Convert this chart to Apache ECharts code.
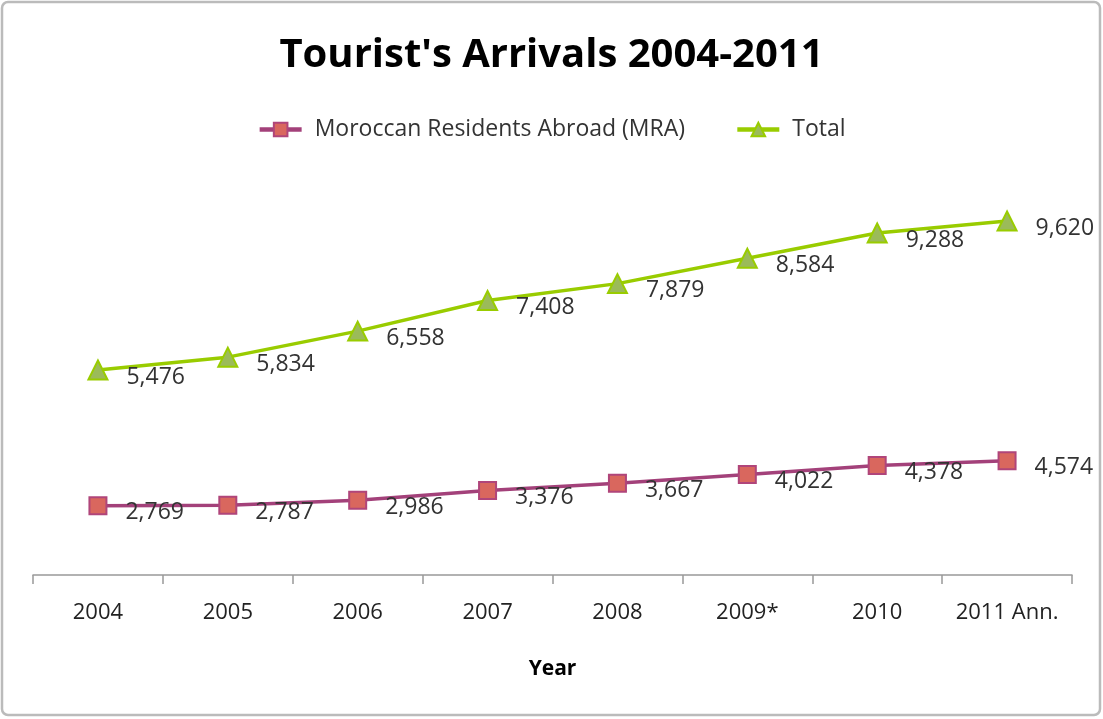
<!DOCTYPE html>
<html>
<head>
<meta charset="utf-8">
<script src="https://cdn.jsdelivr.net/npm/echarts@6/dist/echarts.min.js"></script>
<style>
html,body{margin:0;padding:0;background:#fff;}
#chart{width:1103px;height:719px;}
</style>
</head>
<body>
<div id="chart"></div>
<script>
const categories = ['2004','2005','2006','2007','2008','2009*','2010','2011 Ann.'];
const mraValues = [2769, 2787, 2986, 3376, 3667, 4022, 4378, 4574];
const totalValues = [5476, 5834, 6558, 7408, 7879, 8584, 9288, 9620];
const seriesNames = ['Moroccan Residents Abroad (MRA)', 'Total'];

const FONT = 'Open Sans';
const chart = echarts.init(document.getElementById('chart'));
const labelStyle = {
  show: true,
  position: 'right',
  distance: 18,
  offset: [0, 7],
  color: '#333',
  fontFamily: FONT,
  fontSize: 23,
  formatter: p => p.value.toLocaleString('en-US')
};
chart.setOption({
  animation: false,
  backgroundColor: '#fff',
  title: {
    text: "Tourist's Arrivals 2004-2011",
    left: 'center',
    top: 31,
    textStyle: { fontFamily: FONT, fontWeight: 'bold', fontSize: 40, color: '#000' }
  },
  legend: {
    top: 113,
    left: 'center',
    itemWidth: 42,
    itemHeight: 17,
    itemGap: 50,
    lineStyle: { width: 4.5 },
    textStyle: { fontFamily: FONT, fontSize: 23, color: '#333', padding: [0, 0, 0, 8] },
    data: seriesNames
  },
  grid: { left: 33, right: 31, top: 175, bottom: 144 },
  xAxis: {
    type: 'category',
    data: categories,
    boundaryGap: true,
    axisLine: { lineStyle: { color: '#999', width: 1.5 } },
    axisTick: { show: true, length: 9, interval: 0, lineStyle: { color: '#999', width: 1.5 } },
    axisLabel: { margin: 27, interval: 0, color: '#222', fontFamily: FONT, fontSize: 22 },
    name: 'Year',
    nameLocation: 'middle',
    nameGap: 84,
    nameTextStyle: { fontFamily: FONT, fontWeight: 'bold', fontSize: 21, color: '#000' }
  },
  yAxis: [
    { type: 'value', min: 0, max: 16000, show: false, splitLine: { show: false } },
    { type: 'value', min: -225, max: 10900, show: false, splitLine: { show: false } }
  ],
  series: [
    {
      name: seriesNames[0],
      type: 'line',
      yAxisIndex: 0,
      data: mraValues,
      symbol: 'rect',
      symbolSize: 17,
      lineStyle: { color: '#A3417A', width: 3.5 },
      itemStyle: { color: '#D9675E', borderColor: '#B0457A', borderWidth: 2 },
      label: labelStyle
    },
    {
      name: seriesNames[1],
      type: 'line',
      yAxisIndex: 1,
      data: totalValues,
      symbol: 'triangle',
      symbolSize: 19,
      lineStyle: { color: '#99CC00', width: 3.5 },
      itemStyle: { color: '#9BBB59', borderColor: '#99CC00', borderWidth: 2 },
      label: labelStyle
    }
  ],
  graphic: [
    {
      type: 'rect',
      shape: { x: 2, y: 2, width: 1098, height: 713, r: 6 },
      style: { fill: 'none', stroke: '#BBBBBB', lineWidth: 2.5 },
      silent: true
    }
  ]
});
</script>
</body>
</html>
